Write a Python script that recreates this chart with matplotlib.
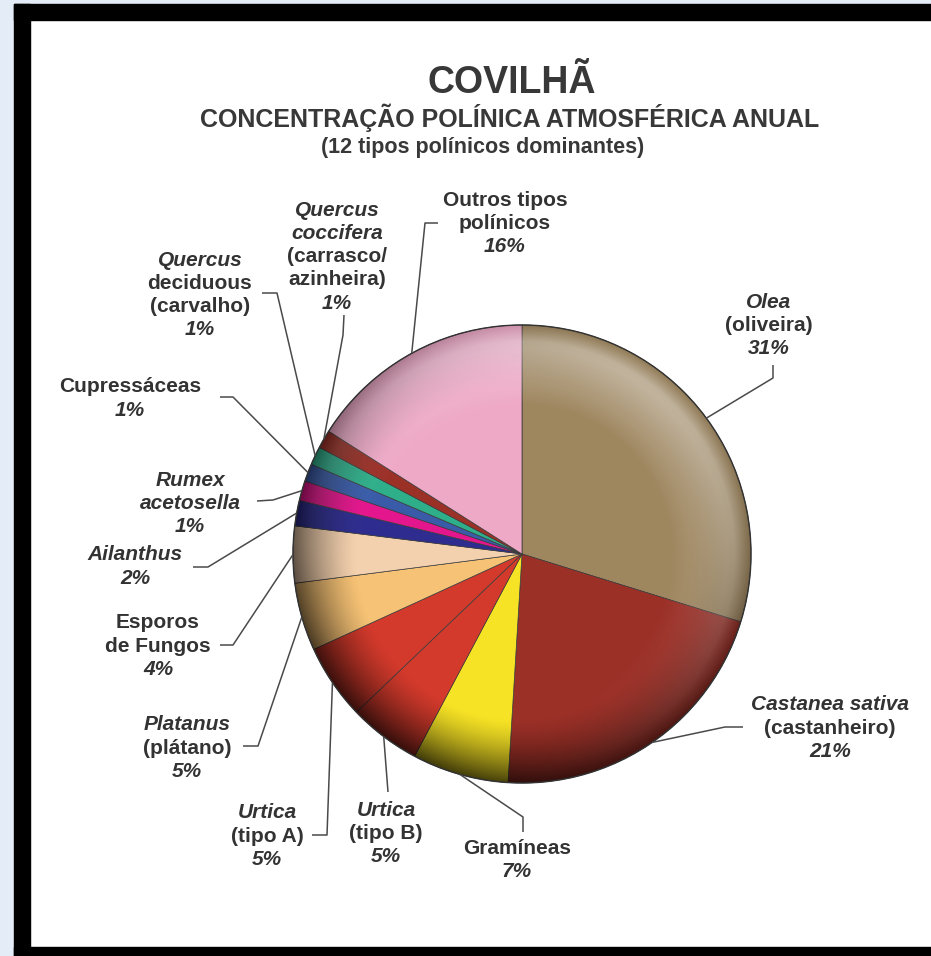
import numpy as np
import matplotlib
matplotlib.use("Agg")
import matplotlib.pyplot as plt
from matplotlib.patches import Circle, Rectangle

plt.rcParams["font.family"] = ["Liberation Sans", "DejaVu Sans"]

# data (clockwise from the top)
shares = [29.8, 21.2, 6.8, 5.1, 5.3, 4.8, 4.0, 1.8, 1.4, 1.25, 1.3, 1.3, 16.0]
pct = [31, 21, 7, 5, 5, 5, 4, 2, 1, 1, 1, 1, 16]
label_lines = [
    ["_Olea", "(oliveira)"],
    ["_Castanea sativa", "(castanheiro)"],
    ["Gramíneas"],
    ["_Urtica", "(tipo B)"],
    ["_Urtica", "(tipo A)"],
    ["_Platanus", "(plátano)"],
    ["Esporos", "de Fungos"],
    ["_Ailanthus"],
    ["_Rumex", "_acetosella"],
    ["Cupressáceas"],
    ["_Quercus", "deciduous", "(carvalho)"],
    ["_Quercus", "_coccifera", "(carrasco/", "azinheira)"],
    ["Outros tipos", "polínicos"],
]
colors = ["#9e865f", "#9b3027", "#f7e325", "#d33a2c", "#d33a2c", "#f6c275",
          "#f4d1ae", "#2e2d8f", "#e4168d", "#3a5ca8", "#2fae8a", "#9b3027",
          "#eea9c7"]

# layout (pixel coords, y down)
W, H = 931, 956
cx, cy, R = 522, 554, 229
label_pos = [(769, 302), (830, 705), (517, 848), (386, 810), (267, 813),
             (187, 725), (158, 623), (135, 555), (190, 480), (130, 387),
             (200, 260), (337, 210), (505, 200)]
leader_pts = [
    [(773, 365), (773, 378)],
    [(743, 727), (725, 727)],
    [(523, 832), (523, 817)],
    [(388, 792)],
    [(312, 835), (327, 835)],
    [(243, 746), (258, 746)],
    [(220, 645), (233, 645)],
    [(193, 567), (208, 567)],
    [(257, 501), (273, 500)],
    [(220, 397), (233, 397)],
    [(262, 293), (277, 293)],
    [(344, 315), (343, 335)],
    [(438, 223), (425, 223)],
]
txt_col = "#333333"
line_h = 23.3

fig = plt.figure(figsize=(W / 100, H / 100), dpi=100)
ax = fig.add_axes([0, 0, 1, 1])

wedges, _ = ax.pie(shares, colors=colors, startangle=-90, counterclock=True,
                   center=(cx, cy), radius=R,
                   wedgeprops={"edgecolor": "#3a3a3a", "linewidth": 0.5})

# 3d-ish shading on top of the pie
n = 600
xs = np.linspace(cx - R, cx + R, n)
ys = np.linspace(cy - R, cy + R, n)
X, Y = np.meshgrid(xs, ys)
dx = (X - cx) / R
dy = (cy - Y) / R
r = np.hypot(dx, dy)
phi = np.arctan2(dy, dx)
w = 0.5 + 0.5 * np.cos(phi - np.radians(235))
rim = np.clip((r - 0.72) / 0.28, 0, 1) ** 1.4
dark = np.zeros((n, n, 4))
dark[..., 3] = 0.75 * rim * (0.1 + 0.9 * w)
light = np.ones((n, n, 4))
band = np.clip((r - 0.65) / 0.25, 0, 1) * np.clip((1.0 - r) / 0.07, 0, 1)
light[..., 3] = 0.4 * band * (1 - w) ** 2
circ = Circle((cx, cy), R, transform=ax.transData)
for img in (dark, light):
    im = ax.imshow(img, extent=(cx - R, cx + R, cy + R, cy - R), zorder=2,
                   interpolation="bilinear")
    im.set_clip_path(circ)
ax.add_patch(Circle((cx, cy), R, fill=False, edgecolor="#333333", lw=1.0, zorder=3))

# labels + leader lines
for i, wd in enumerate(wedges):
    t = np.radians((wd.theta1 + wd.theta2) / 2)
    end = (cx + R * np.cos(t), cy + R * np.sin(t))
    pts = leader_pts[i] + [end]
    ax.plot([p[0] for p in pts], [p[1] for p in pts], color="#4a4a4a",
            lw=1.1, zorder=4, solid_capstyle="butt")
    x0, y0 = label_pos[i]
    lines = label_lines[i] + ["_%d%%" % pct[i]]
    for k, s in enumerate(lines):
        it = s.startswith("_")
        ax.text(x0, y0 + k * line_h, s.lstrip("_"), ha="center", va="center",
                fontsize=15, fontweight="bold",
                fontstyle="italic" if it else "normal", color=txt_col)

# titles
ax.text(512, 93, "COVILHÃ", ha="center", va="baseline", fontsize=27,
        fontweight="bold", color="#383838")
ax.text(510, 127, "CONCENTRAÇÃO POLÍNICA ATMOSFÉRICA ANUAL", ha="center",
        va="baseline", fontsize=18, fontweight="bold", color="#383838")
ax.text(483, 153, "(12 tipos polínicos dominantes)", ha="center",
        va="baseline", fontsize=15.5, fontweight="bold", color="#383838")

# frame
ax.add_patch(Rectangle((0, 0), 14, H, color="#e4edf7", zorder=0))
ax.add_patch(Rectangle((0, 0), W, 4, color="#e4edf7", zorder=0))
ax.add_patch(Rectangle((14, 4), 16, H, color="black", zorder=5))
ax.add_patch(Rectangle((14, 4), W, 16, color="black", zorder=5))
ax.add_patch(Rectangle((14, 947), W, 10, color="black", zorder=5))

ax.set_xlim(0, W)
ax.set_ylim(H, 0)
ax.set_aspect("equal")
ax.axis("off")
fig.savefig("out.png", dpi=100, facecolor="white")
